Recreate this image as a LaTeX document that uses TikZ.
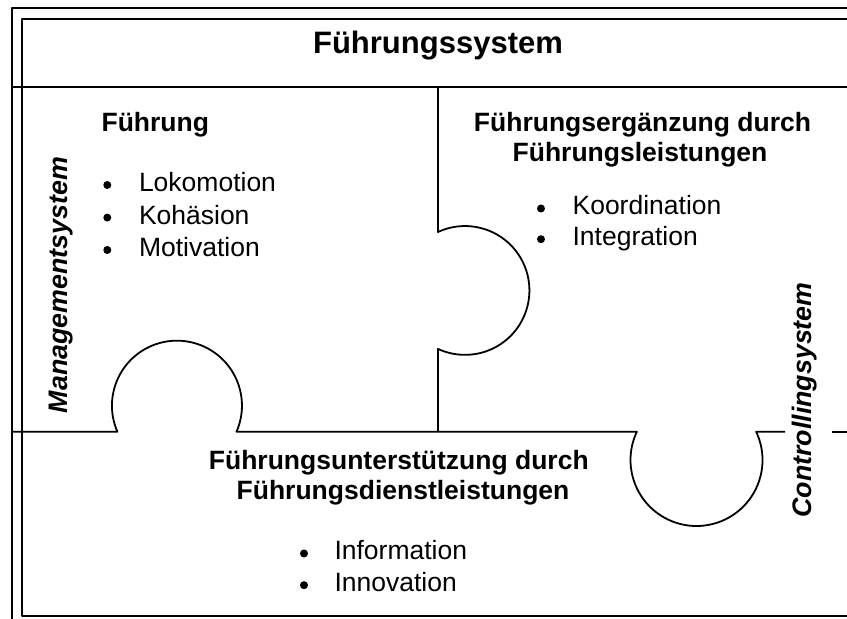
\documentclass[tikz,border=0pt]{standalone}
\usepackage{fontspec}
\setmainfont{Liberation Sans}
\begin{document}
\begin{tikzpicture}[x=1pt,y=1pt,
  frame/.style={line width=1.8pt, black, line join=round},
  body/.style={font=\fontsize{26.5}{30}\selectfont, inner sep=0pt},
  head/.style={font=\fontsize{26.5}{30}\selectfont\bfseries, inner sep=0pt},
  side/.style={font=\fontsize{26.8}{30}\selectfont\bfseries\itshape, inner sep=0pt, rotate=90, anchor=base},
  titletext/.style={font=\fontsize{31}{36}\selectfont\bfseries, inner sep=0pt, anchor=base},
  bulletdot/.style={fill=black}
]
\useasboundingbox (0,0) rectangle (847,619);
\clip (0,0) rectangle (847,619);

% double outer frame
\draw[frame] (11.7,-5) -- (11.7,610.7) -- (860,610.7);
\draw[frame] (860,3) -- (21.7,3) -- (21.7,600) -- (860,600);
% title band
\draw[frame] (11.7,532.3) -- (860,532.3);

% vertical puzzle edge with tab to the right
\draw[frame] (438,532.3) -- (438,387)
  arc[start angle=114.8, end angle=-114.8, radius=64.4] -- (438,187.3);

% horizontal puzzle edge: tab up, tab down
\draw[frame] (11.7,187.3) -- (117.4,187.3)
  arc[start angle=203.6, end angle=-23.6, radius=65] -- (636.9,187.3)
  arc[start angle=154.6, end angle=385.4, radius=66] -- (785,187.3);
\draw[frame] (832,187.3) -- (860,187.3);

% title
\node[titletext] (title) at (438,565.7) {Führungssystem};

% upper left piece
\node[head, anchor=base west] (fhead) at (101.4,487.3) {Führung};
\node[body, anchor=base west] (lok) at (138.8,427.3) {Lokomotion};
\node[body, anchor=base west] (koh) at (138.8,394.7) {Kohäsion};
\node[body, anchor=base west] (mot) at (138.8,362.3) {Motivation};
\fill[bulletdot] (107.3,434) circle (4);
\fill[bulletdot] (107.3,401.4) circle (4);
\fill[bulletdot] (107.3,369) circle (4);

% upper right piece
\node[head, anchor=base] (ehead1) at (642.5,487.3) {Führungsergänzung durch};
\node[head, anchor=base] (ehead2) at (640,457.3) {Führungsleistungen};
\node[body, anchor=base west] (koo) at (572.4,404) {Koordination};
\node[body, anchor=base west] (integ) at (572.4,373.3) {Integration};
\fill[bulletdot] (541,410.5) circle (4);
\fill[bulletdot] (541,379.8) circle (4);

% lower piece
\node[head, anchor=base] (uhead1) at (398.8,149.7) {Führungsunterstützung durch};
\node[head, anchor=base] (uhead2) at (403,119) {Führungsdienstleistungen};
\node[body, anchor=base west] (infor) at (334.3,59) {Information};
\node[body, anchor=base west] (innov) at (334.3,27.3) {Innovation};
\fill[bulletdot] (304,65.5) circle (4);
\fill[bulletdot] (304,33.8) circle (4);

% side labels
\node[side] (mgmt) at (67.5,334) {Managementsystem};
\node[side] (ctrl) at (811,219) {Controllingsystem};
\end{tikzpicture}
\end{document}
